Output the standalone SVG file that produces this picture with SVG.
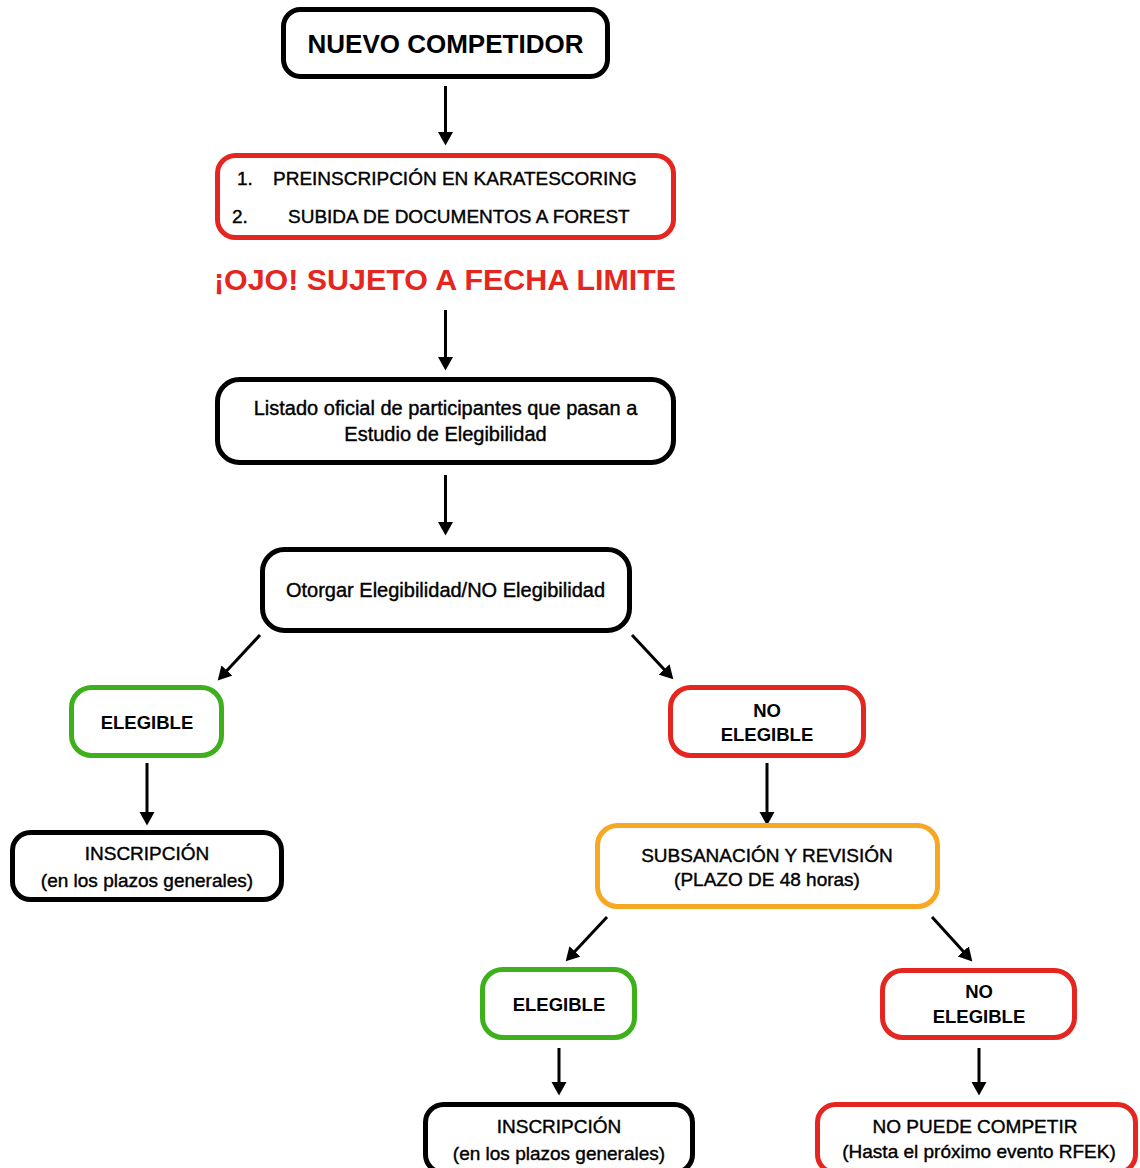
<svg xmlns="http://www.w3.org/2000/svg" width="1140" height="1168" viewBox="0 0 1140 1168">
<style>
.box{fill:#fff;stroke-width:5}
.k{stroke:#000}
.r{stroke:#e52620}
.g{stroke:#3db01c}
.o{stroke:#f7a823}
text{font-family:"Liberation Sans",Arial,Helvetica,sans-serif;fill:#000;text-anchor:middle}
.t{font-size:19px;stroke:#000;stroke-width:0.4}
.t20{font-size:20px;stroke:#000;stroke-width:0.4}
.b{font-weight:bold;font-size:18.5px}
.con line{stroke:#000;stroke-width:3;marker-end:url(#ah)}
</style>
<defs>
<marker id="ah" markerUnits="userSpaceOnUse" markerWidth="14" markerHeight="16" refX="5" refY="8" orient="auto">
<path d="M0,0.5 L13.5,8 L0,15.5 z" fill="#000"/>
</marker>
</defs>
<rect width="1140" height="1168" fill="#fff"/>
<g class="con">
<line x1="445.5" y1="86" x2="445.5" y2="137"/>
<line x1="445.5" y1="310" x2="445.5" y2="362"/>
<line x1="445.5" y1="475" x2="445.5" y2="527"/>
<line x1="260" y1="635" x2="223.5" y2="674.2"/>
<line x1="632" y1="635" x2="667.5" y2="673.1"/>
<line x1="147" y1="763" x2="147" y2="817"/>
<line x1="767" y1="763" x2="767" y2="817"/>
<line x1="607" y1="917" x2="571.5" y2="955.1"/>
<line x1="932" y1="917" x2="966.6" y2="955.1"/>
<line x1="559" y1="1048" x2="559" y2="1087"/>
<line x1="979" y1="1048" x2="979" y2="1087"/>
</g>
<g id="n1">
<rect class="box k" x="283.5" y="9.5" width="324" height="67" rx="17"/>
<text x="445.5" y="53" style="font-weight:bold;font-size:26px">NUEVO COMPETIDOR</text>
</g>
<g id="n2">
<rect class="box r" x="217.5" y="155.5" width="456" height="82" rx="18"/>
<text class="t" x="237" y="185" style="text-anchor:start">1.</text>
<text class="t" x="273" y="185" style="text-anchor:start">PREINSCRIPCIÓN EN KARATESCORING</text>
<text class="t" x="232" y="223" style="text-anchor:start">2.</text>
<text class="t" x="288" y="223" style="text-anchor:start">SUBIDA DE DOCUMENTOS A FOREST</text>
</g>
<g id="warn">
<text x="445" y="290" style="font-weight:bold;font-size:30.4px;fill:#e52620">¡OJO! SUJETO A FECHA LIMITE</text>
</g>
<g id="n3">
<rect class="box k" x="217.5" y="379.5" width="456" height="83" rx="22"/>
<text class="t20" x="445.5" y="415">Listado oficial de participantes que pasan a</text>
<text class="t20" x="445.5" y="441">Estudio de Elegibilidad</text>
</g>
<g id="n4">
<rect class="box k" x="262.5" y="549.5" width="367" height="81" rx="22"/>
<text class="t20" x="445.5" y="597">Otorgar Elegibilidad/NO Elegibilidad</text>
</g>
<g id="n5">
<rect class="box g" x="71.5" y="687.5" width="150" height="68" rx="20"/>
<text class="b" x="147" y="729">ELEGIBLE</text>
</g>
<g id="n6">
<rect class="box k" x="12.5" y="832.5" width="269" height="67" rx="18"/>
<text class="t" x="147" y="860">INSCRIPCIÓN</text>
<text class="t" x="147" y="887">(en los plazos generales)</text>
</g>
<g id="n7">
<rect class="box r" x="670.5" y="687.5" width="193" height="68" rx="20"/>
<text class="b" x="767" y="717">NO</text>
<text class="b" x="767" y="741">ELEGIBLE</text>
</g>
<g id="n8">
<rect class="box o" x="597.5" y="825.5" width="340" height="81" rx="20"/>
<text class="t" x="767" y="862">SUBSANACIÓN Y REVISIÓN</text>
<text class="t" x="767" y="886">(PLAZO DE 48 horas)</text>
</g>
<g id="n9">
<rect class="box g" x="482.5" y="969.5" width="152" height="68" rx="20"/>
<text class="b" x="559" y="1011">ELEGIBLE</text>
</g>
<g id="n10">
<rect class="box k" x="425.5" y="1104.5" width="267" height="68" rx="18"/>
<text class="t" x="559" y="1133">INSCRIPCIÓN</text>
<text class="t" x="559" y="1160">(en los plazos generales)</text>
</g>
<g id="n11">
<rect class="box r" x="882.5" y="970.5" width="192" height="67" rx="20"/>
<text class="b" x="979" y="998">NO</text>
<text class="b" x="979" y="1023">ELEGIBLE</text>
</g>
<g id="n12">
<rect class="box r" x="817.5" y="1104.5" width="318" height="68" rx="18"/>
<text class="t" x="975" y="1133">NO PUEDE COMPETIR</text>
<text class="t" x="979" y="1158">(Hasta el próximo evento RFEK)</text>
</g>
</svg>
